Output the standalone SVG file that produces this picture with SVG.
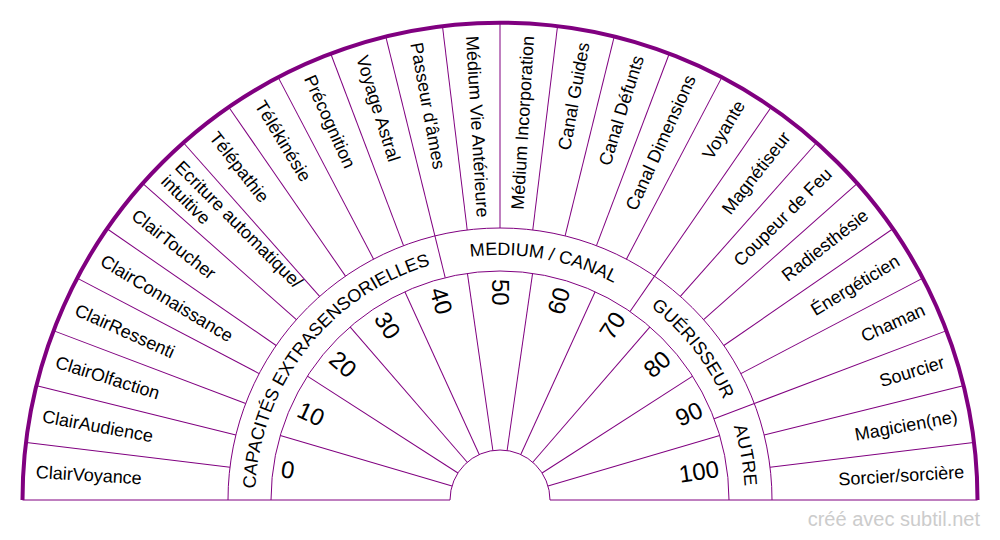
<svg xmlns="http://www.w3.org/2000/svg" xmlns:xlink="http://www.w3.org/1999/xlink" width="1000" height="540" viewBox="0 0 1000 540">
<style>
.ln{stroke:#800080;stroke-width:1;fill:none}
.outer{stroke:#800080;stroke-width:4;fill:none}
.lbl{font-family:"Liberation Sans",Arial,sans-serif;font-size:18px;fill:#000;dominant-baseline:central}
.l{text-anchor:start}
.r{text-anchor:end}
.num{font-family:"Liberation Sans",Arial,sans-serif;font-size:24px;fill:#000;dominant-baseline:central}
.cat{font-family:"Liberation Sans",Arial,sans-serif;font-size:18px;fill:#000;text-anchor:middle}
.wm{font-family:"Liberation Sans",Arial,sans-serif;font-size:20px;fill:#cccccc;text-anchor:end}
</style>
<defs>
<path id="catArc" d="M 255 500 A 245 245 0 0 1 745 500"/>
</defs>
<rect width="1000" height="540" fill="#ffffff"/>
<g id="connectors">
<path class="ln" d="M 22.5 500 H 450 M 550 500 H 977.5"/>
<path class="ln" d="M 450 500 A 50 50 0 0 1 550 500"/>
<path class="ln" d="M 271 500 A 229 229 0 0 1 729 500"/>
<path class="ln" d="M 228 500 A 272 272 0 0 1 772 500"/>
<g id="outer-dividers" class="ln">
<line x1="23" y1="500" x2="228" y2="500" transform="rotate(6.9231 500 500)"/>
<line x1="23" y1="500" x2="228" y2="500" transform="rotate(13.8462 500 500)"/>
<line x1="23" y1="500" x2="228" y2="500" transform="rotate(20.7692 500 500)"/>
<line x1="23" y1="500" x2="228" y2="500" transform="rotate(27.6923 500 500)"/>
<line x1="23" y1="500" x2="228" y2="500" transform="rotate(34.6154 500 500)"/>
<line x1="23" y1="500" x2="228" y2="500" transform="rotate(41.5385 500 500)"/>
<line x1="23" y1="500" x2="228" y2="500" transform="rotate(48.4615 500 500)"/>
<line x1="23" y1="500" x2="228" y2="500" transform="rotate(55.3846 500 500)"/>
<line x1="23" y1="500" x2="228" y2="500" transform="rotate(62.3077 500 500)"/>
<line x1="23" y1="500" x2="228" y2="500" transform="rotate(69.2308 500 500)"/>
<line x1="23" y1="500" x2="228" y2="500" transform="rotate(76.1538 500 500)"/>
<line x1="23" y1="500" x2="228" y2="500" transform="rotate(83.0769 500 500)"/>
<line x1="23" y1="500" x2="228" y2="500" transform="rotate(90 500 500)"/>
<line x1="23" y1="500" x2="228" y2="500" transform="rotate(96.9231 500 500)"/>
<line x1="23" y1="500" x2="228" y2="500" transform="rotate(103.8462 500 500)"/>
<line x1="23" y1="500" x2="228" y2="500" transform="rotate(110.7692 500 500)"/>
<line x1="23" y1="500" x2="228" y2="500" transform="rotate(117.6923 500 500)"/>
<line x1="23" y1="500" x2="228" y2="500" transform="rotate(124.6154 500 500)"/>
<line x1="23" y1="500" x2="228" y2="500" transform="rotate(131.5385 500 500)"/>
<line x1="23" y1="500" x2="228" y2="500" transform="rotate(138.4615 500 500)"/>
<line x1="23" y1="500" x2="228" y2="500" transform="rotate(145.3846 500 500)"/>
<line x1="23" y1="500" x2="228" y2="500" transform="rotate(152.3077 500 500)"/>
<line x1="23" y1="500" x2="228" y2="500" transform="rotate(159.2308 500 500)"/>
<line x1="23" y1="500" x2="228" y2="500" transform="rotate(166.1538 500 500)"/>
<line x1="23" y1="500" x2="228" y2="500" transform="rotate(173.0769 500 500)"/>
</g>
<g id="category-dividers" class="ln">
<line x1="228" y1="500" x2="271" y2="500" transform="rotate(76.1538 500 500)"/>
<line x1="228" y1="500" x2="271" y2="500" transform="rotate(124.6154 500 500)"/>
<line x1="228" y1="500" x2="271" y2="500" transform="rotate(159.2308 500 500)"/>
</g>
<g id="number-dividers" class="ln">
<line x1="271" y1="500" x2="450" y2="500" transform="rotate(16.3636 500 500)"/>
<line x1="271" y1="500" x2="450" y2="500" transform="rotate(32.7273 500 500)"/>
<line x1="271" y1="500" x2="450" y2="500" transform="rotate(49.0909 500 500)"/>
<line x1="271" y1="500" x2="450" y2="500" transform="rotate(65.4545 500 500)"/>
<line x1="271" y1="500" x2="450" y2="500" transform="rotate(81.8182 500 500)"/>
<line x1="271" y1="500" x2="450" y2="500" transform="rotate(98.1818 500 500)"/>
<line x1="271" y1="500" x2="450" y2="500" transform="rotate(114.5455 500 500)"/>
<line x1="271" y1="500" x2="450" y2="500" transform="rotate(130.9091 500 500)"/>
<line x1="271" y1="500" x2="450" y2="500" transform="rotate(147.2727 500 500)"/>
<line x1="271" y1="500" x2="450" y2="500" transform="rotate(163.6364 500 500)"/>
</g>
<path class="outer" d="M 22.5 500 A 477.5 477.5 0 0 1 977.5 500"/>
</g>
<g id="outer-labels">
<g id="n-clairvoyance"><text class="lbl l" x="35" y="500" transform="rotate(3.4615 500 500)">ClairVoyance</text></g>
<g id="n-clairaudience"><text class="lbl l" x="35" y="500" transform="rotate(10.3846 500 500)">ClairAudience</text></g>
<g id="n-clairolfaction"><text class="lbl l" x="35" y="500" transform="rotate(17.3077 500 500)">ClairOlfaction</text></g>
<g id="n-clairressenti"><text class="lbl l" x="35" y="500" transform="rotate(24.2308 500 500)">ClairRessenti</text></g>
<g id="n-clairconnaissance"><text class="lbl l" x="35" y="500" transform="rotate(31.1538 500 500)">ClairConnaissance</text></g>
<g id="n-clairtoucher"><text class="lbl l" x="35" y="500" transform="rotate(38.0769 500 500)">ClairToucher</text></g>
<g id="n-ecriture"><text class="lbl l" transform="rotate(45 500 500)"><tspan x="35" y="490">Ecriture automatique/</tspan><tspan x="35" y="510">intuitive</tspan></text></g>
<g id="n-telepathie"><text class="lbl l" x="35" y="500" transform="rotate(51.9231 500 500)">Télépathie</text></g>
<g id="n-telekinesie"><text class="lbl l" x="35" y="500" transform="rotate(58.8462 500 500)">Télékinésie</text></g>
<g id="n-precognition"><text class="lbl l" x="35" y="500" transform="rotate(65.7692 500 500)">Précognition</text></g>
<g id="n-voyage-astral"><text class="lbl l" x="35" y="500" transform="rotate(72.6923 500 500)">Voyage Astral</text></g>
<g id="n-passeur"><text class="lbl l" x="35" y="500" transform="rotate(79.6154 500 500)">Passeur d'âmes</text></g>
<g id="n-medium-vie"><text class="lbl l" x="35" y="500" transform="rotate(86.5385 500 500)">Médium Vie Antérieure</text></g>
<g id="n-medium-incorporation"><text class="lbl r" x="965" y="500" transform="rotate(-86.5385 500 500)">Médium Incorporation</text></g>
<g id="n-canal-guides"><text class="lbl r" x="965" y="500" transform="rotate(-79.6154 500 500)">Canal Guides</text></g>
<g id="n-canal-defunts"><text class="lbl r" x="965" y="500" transform="rotate(-72.6923 500 500)">Canal Défunts</text></g>
<g id="n-canal-dimensions"><text class="lbl r" x="965" y="500" transform="rotate(-65.7692 500 500)">Canal Dimensions</text></g>
<g id="n-voyante"><text class="lbl r" x="965" y="500" transform="rotate(-58.8462 500 500)">Voyante</text></g>
<g id="n-magnetiseur"><text class="lbl r" x="965" y="500" transform="rotate(-51.9231 500 500)">Magnétiseur</text></g>
<g id="n-coupeur"><text class="lbl r" x="965" y="500" transform="rotate(-45 500 500)">Coupeur de Feu</text></g>
<g id="n-radiesthesie"><text class="lbl r" x="965" y="500" transform="rotate(-38.0769 500 500)">Radiesthésie</text></g>
<g id="n-energeticien"><text class="lbl r" x="965" y="500" transform="rotate(-31.1538 500 500)">Énergéticien</text></g>
<g id="n-chaman"><text class="lbl r" x="965" y="500" transform="rotate(-24.2308 500 500)">Chaman</text></g>
<g id="n-sourcier"><text class="lbl r" x="965" y="500" transform="rotate(-17.3077 500 500)">Sourcier</text></g>
<g id="n-magicien"><text class="lbl r" x="965" y="500" transform="rotate(-10.3846 500 500)">Magicien(ne)</text></g>
<g id="n-sorcier"><text class="lbl r" x="965" y="500" transform="rotate(-3.4615 500 500)">Sorcier/sorcière</text></g>
</g>
<g id="categories">
<g id="c-capacites"><text class="cat"><textPath xlink:href="#catArc" href="#catArc" startOffset="21.154%">CAPACITÉS EXTRASENSORIELLES</textPath></text></g>
<g id="c-medium"><text class="cat"><textPath xlink:href="#catArc" href="#catArc" startOffset="55.769%">MEDIUM / CANAL</textPath></text></g>
<g id="c-guerisseur"><text class="cat"><textPath xlink:href="#catArc" href="#catArc" startOffset="78.846%">GUÉRISSEUR</textPath></text></g>
<g id="c-autre"><text class="cat"><textPath xlink:href="#catArc" href="#catArc" startOffset="94.231%">AUTRE</textPath></text></g>
</g>
<g id="numbers">
<g id="v0"><text class="num l" x="279" y="500" transform="rotate(8.1818 500 500)">0</text></g>
<g id="v10"><text class="num l" x="279" y="500" transform="rotate(24.5455 500 500)">10</text></g>
<g id="v20"><text class="num l" x="279" y="500" transform="rotate(40.9091 500 500)">20</text></g>
<g id="v30"><text class="num l" x="279" y="500" transform="rotate(57.2727 500 500)">30</text></g>
<g id="v40"><text class="num l" x="279" y="500" transform="rotate(73.6364 500 500)">40</text></g>
<g id="v50"><text class="num l" x="279" y="500" transform="rotate(90 500 500)">50</text></g>
<g id="v60"><text class="num r" x="721" y="500" transform="rotate(-73.6364 500 500)">60</text></g>
<g id="v70"><text class="num r" x="721" y="500" transform="rotate(-57.2727 500 500)">70</text></g>
<g id="v80"><text class="num r" x="721" y="500" transform="rotate(-40.9091 500 500)">80</text></g>
<g id="v90"><text class="num r" x="721" y="500" transform="rotate(-24.5455 500 500)">90</text></g>
<g id="v100"><text class="num r" x="721" y="500" transform="rotate(-8.1818 500 500)">100</text></g>
</g>
<text class="wm" x="980" y="526">créé avec subtil.net</text>
</svg>
